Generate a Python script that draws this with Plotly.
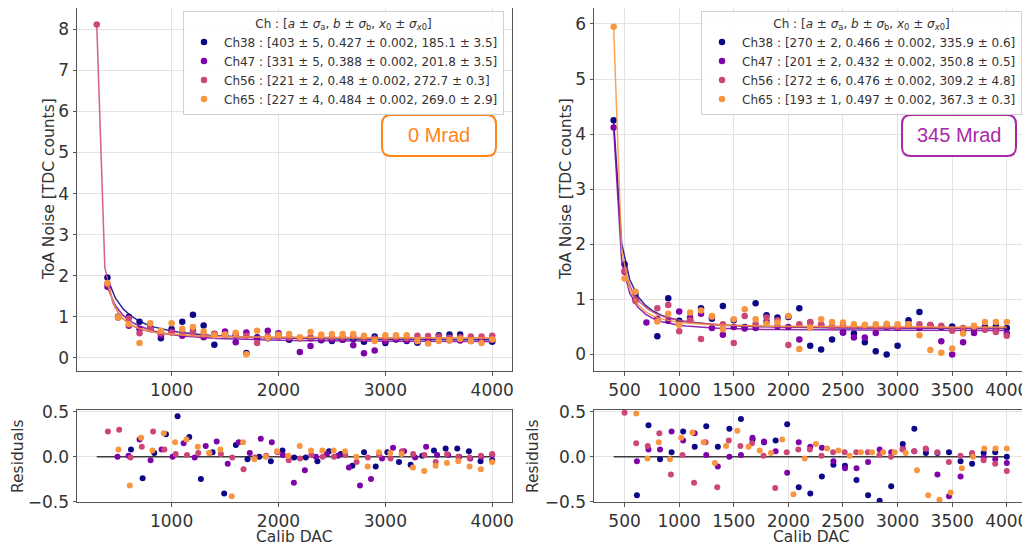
import numpy as np
import plotly.graph_objects as go

# page is 1030x547; the browser adds an 8px body margin, so the figure is sized to the visible area
OFF = 8
W, H = 1030 - OFF, 547 - OFF

channels = ["Ch38", "Ch47", "Ch56", "Ch65"]
colors = ["#0d0887", "#7e03a8", "#cc4778", "#f89540"]

# ---------------- 0 Mrad (left) ----------------
calib_left = list(range(300, 4001, 100))
noise_left_ch38 = [None, 1.96, 1.00, 1.00, 0.88, 0.72, 0.48, 0.70, 0.88, 1.05, 0.79, 0.32, 0.58, 0.55, 0.12, 0.50,
                   0.48, 0.55, 0.44, 0.48, 0.48, 0.43, 0.41, 0.44, 0.46, 0.39, 0.52, 0.36, 0.45, 0.41, 0.37, 0.45,
                   0.55, 0.57, 0.57, 0.45, 0.42, 0.39]
noise_left_ch47 = [None, 1.73, 0.98, 0.78, 0.70, 0.70, 0.55, 0.64, 0.54, 0.66, 0.50, 0.58, 0.64, 0.38, 0.62, 0.48,
                   0.66, 0.60, 0.48, 0.14, 0.29, 0.44, 0.44, 0.44, 0.31, 0.11, 0.18, 0.40, 0.46, 0.43, 0.40, 0.42,
                   0.45, 0.43, 0.42, 0.41, 0.44, 0.45]
noise_left_ch56 = [8.12, 1.80, 1.00, 0.96, 0.60, 0.70, 0.60, 0.62, 0.63, 0.62, 0.56, 0.59, 0.56, 0.56, 0.54, 0.36,
                   0.52, 0.52, 0.50, 0.48, 0.50, 0.51, 0.50, 0.50, 0.52, 0.48, 0.47, 0.48, 0.50, 0.48, 0.54, 0.53,
                   0.52, 0.49, 0.50, 0.52, 0.52, 0.54]
noise_left_ch65 = [None, 1.82, 0.98, 0.82, 0.36, 0.84, 0.66, 0.84, 0.71, 0.75, 0.64, 0.55, 0.57, 0.61, 0.09, 0.66,
                   0.49, 0.56, 0.58, 0.50, 0.63, 0.57, 0.58, 0.58, 0.58, 0.54, 0.41, 0.55, 0.55, 0.55, 0.41, 0.35,
                   0.41, 0.42, 0.46, 0.41, 0.36, 0.45]
fit_a_left = [403, 331, 221, 227]
fit_b_left = [0.427, 0.388, 0.48, 0.484]
fit_x0_left = [185.1, 201.8, 272.7, 269.0]
labels_left = ["Ch38 : [403 ± 5, 0.427 ± 0.002, 185.1 ± 3.5]",
               "Ch47 : [331 ± 5, 0.388 ± 0.002, 201.8 ± 3.5]",
               "Ch56 : [221 ± 2, 0.48 ± 0.002, 272.7 ± 0.3]",
               "Ch65 : [227 ± 4, 0.484 ± 0.002, 269.0 ± 2.9]"]
res_left_start = [620, 494, 404, 503]
res_left_ch38 = [0.08, -0.24, 0.04, 0.25, 0.45, 0.22, -0.25, 0.05, -0.41, 0.13, -0.03, 0.0, -0.05, 0.07, -0.01, -0.01,
                 -0.05, 0.06, 0.03, -0.10, 0.05, -0.11, 0.05, -0.06, -0.09, 0.01, 0.07, 0.09, 0.09, 0.06, -0.05, -0.04]
res_left_ch47 = [0.0, 0.01, 0.19, -0.04, 0.08, 0.0, 0.15, -0.01, 0.12, 0.17, -0.08, 0.16, 0.04, 0.20, 0.16, 0.02,
                 -0.29, -0.15, 0.0, 0.03, 0.01, -0.12, -0.32, -0.25, -0.02, 0.10, 0.06, -0.01, 0.11, 0.02, 0.02, 0.0,
                 -0.02, 0.0, 0.02]
res_left_ch56 = [0.28, 0.30, -0.01, 0.11, 0.28, 0.08, 0.03, 0.02, 0.04, 0.04, 0.03, -0.01, -0.14, -0.01, 0.01, 0.05,
                 -0.04, -0.02, 0.02, 0.0, 0.0, 0.02, -0.06, -0.01, 0.02, -0.02, 0.06, 0.03, 0.02, -0.06, 0.03, 0.0,
                 -0.01, 0.01, 0.03]
res_left_ch65 = [0.08, -0.32, 0.21, 0.07, 0.26, 0.16, 0.19, 0.11, 0.04, 0.08, -0.44, 0.16, -0.03, 0.0, 0.06, 0.01,
                 0.12, 0.07, 0.07, 0.07, 0.06, 0.0, -0.11, 0.05, 0.04, 0.03, -0.12, -0.16, -0.10, -0.07, -0.05, -0.11,
                 -0.14, -0.06]

# ---------------- 345 Mrad (right) ----------------
calib_right = list(range(400, 4001, 100))
noise_right_ch38 = [4.25, 1.64, 1.10, None, 0.33, 1.02, 0.61, 0.62, 0.84, 0.65, 0.88, 0.62, 0.50, 0.93, 0.71, 0.67,
                    0.68, 0.84, 0.16, 0.09, 0.27, 0.40, 0.38, 0.22, 0.06, 0.0, 0.16, 0.62, 0.77, 0.52, 0.50, 0.51,
                    0.45, 0.48, 0.50, 0.51, 0.48]
noise_right_ch47 = [4.12, 1.50, 1.00, 0.58, 0.65, 0.61, 0.78, 0.67, 0.74, 0.48, 0.36, 0.50, 0.47, 0.48, 0.60, 0.51,
                    0.50, 0.27, 0.58, 0.54, 0.50, 0.40, 0.31, 0.31, 0.39, 0.50, 0.48, 0.52, 0.48, 0.52, 0.24, 0.0,
                    0.22, 0.39, 0.46, 0.44, 0.38]
noise_right_ch56 = [None, 1.52, 0.97, None, 0.84, 0.90, 0.42, 0.62, 0.28, 0.68, 0.55, 0.21, 0.70, 0.55, 0.67, 0.62,
                    0.17, 0.55, 0.59, 0.54, 0.50, 0.52, 0.52, 0.52, 0.50, 0.52, 0.50, 0.55, 0.55, 0.54, 0.52, 0.43,
                    0.48, 0.50, 0.45, 0.41, 0.34]
noise_right_ch65 = [5.95, 1.38, 1.14, None, 0.60, 0.74, 0.54, 0.76, 0.80, 0.70, 0.46, 0.64, 0.82, 0.64, 0.56, 0.58,
                    0.70, 0.10, 0.49, 0.64, 0.59, 0.58, 0.55, 0.54, 0.55, 0.56, 0.55, 0.55, 0.35, 0.08, 0.03, 0.11,
                    0.38, 0.52, 0.59, 0.59, 0.59]
fit_a_right = [270, 201, 272, 193]
fit_b_right = [0.466, 0.432, 0.476, 0.497]
fit_x0_right = [335.9, 350.8, 309.2, 367.3]
labels_right = ["Ch38 : [270 ± 2, 0.466 ± 0.002, 335.9 ± 0.6]",
                "Ch47 : [201 ± 2, 0.432 ± 0.002, 350.8 ± 0.5]",
                "Ch56 : [272 ± 6, 0.476 ± 0.002, 309.2 ± 4.8]",
                "Ch65 : [193 ± 1, 0.497 ± 0.002, 367.3 ± 0.3]"]
res_right_start = [613, 613, 500, 607]
res_right_ch38 = [-0.43, 0.35, -0.03, 0.05, 0.28, 0.11, 0.34, 0.11, 0.31, 0.42, 0.19, 0.16, 0.18, 0.36, -0.34, -0.41,
                  -0.22, -0.09, -0.10, -0.26, -0.43, -0.49, -0.33, 0.14, 0.31, 0.04, 0.04, 0.05, -0.05, -0.08, 0.04,
                  0.05, 0.0]
res_right_ch47 = [-0.05, 0.08, 0.08, 0.28, 0.18, 0.26, 0.02, -0.11, 0.0, 0.02, 0.21, 0.17, 0.06, -0.18, 0.16, 0.11,
                  0.10, -0.05, -0.13, -0.13, -0.06, 0.08, 0.05, 0.09, 0.06, 0.08, -0.20, -0.44, -0.22, 0.03, -0.01,
                  -0.03, -0.07]
res_right_ch56 = [0.49, 0.15, 0.12, 0.26, -0.20, 0.02, -0.29, 0.16, -0.34, 0.18, 0.12, 0.15, 0.01, -0.35, 0.05, 0.08,
                  0.08, 0.01, 0.05, 0.05, 0.05, 0.05, 0.02, 0.0, 0.08, 0.06, 0.09, 0.05, -0.06, 0.01, 0.04, -0.04,
                  -0.08, -0.16]
res_right_ch65 = [0.48, -0.02, 0.16, -0.03, 0.21, 0.27, 0.16, -0.07, 0.12, 0.29, 0.11, 0.07, 0.04, 0.19, -0.42, -0.02,
                  0.14, 0.09, 0.07, 0.01, 0.05, 0.05, 0.05, 0.05, 0.04, -0.15, -0.43, -0.48, -0.40, -0.13, 0.0, 0.09,
                  0.09, 0.09]

x_end = 4000
FONT = "DejaVu Sans"
TXT = "#333333"

panels = [
    dict(x=calib_left, ys=[noise_left_ch38, noise_left_ch47, noise_left_ch56, noise_left_ch65],
         a=fit_a_left, b=fit_b_left, x0=fit_x0_left, labels=labels_left,
         rstart=res_left_start, rs=[res_left_ch38, res_left_ch47, res_left_ch56, res_left_ch65],
         xa="x", ya="y", xr="x2", yr="y2", legend="legend"),
    dict(x=calib_right, ys=[noise_right_ch38, noise_right_ch47, noise_right_ch56, noise_right_ch65],
         a=fit_a_right, b=fit_b_right, x0=fit_x0_right, labels=labels_right,
         rstart=res_right_start, rs=[res_right_ch38, res_right_ch47, res_right_ch56, res_right_ch65],
         xa="x3", ya="y3", xr="x4", yr="y4", legend="legend2"),
]

fig = go.Figure()
for p in panels:
    xmin_all = None
    for i in range(4):
        y = p["ys"][i]
        valid = [xx for xx, yy in zip(p["x"], y) if yy is not None]
        xmin = min(valid)
        xmin_all = xmin if xmin_all is None else min(xmin_all, xmin)
        fig.add_trace(go.Scatter(x=p["x"], y=y, mode="markers", name=p["labels"][i],
                                 marker=dict(color=colors[i], size=6.5),
                                 xaxis=p["xa"], yaxis=p["ya"], legend=p["legend"]))
        xf = np.linspace(xmin, x_end, 50)
        yf = np.sqrt((p["a"][i] / (xf - p["x0"][i])) ** 2 + p["b"][i] ** 2)
        fig.add_trace(go.Scatter(x=xf, y=yf, mode="lines", showlegend=False, hoverinfo="skip",
                                 line=dict(color=colors[i], width=1.5), opacity=0.85,
                                 xaxis=p["xa"], yaxis=p["ya"]))
    fig.add_trace(go.Scatter(x=[xmin_all, x_end], y=[0, 0], mode="lines", showlegend=False,
                             line=dict(color="#3a3a3a", width=1.5), xaxis=p["xr"], yaxis=p["yr"]))
    for i in range(4):
        r = p["rs"][i]
        xr = np.linspace(p["rstart"][i], x_end, len(r))
        fig.add_trace(go.Scatter(x=xr, y=r, mode="markers", showlegend=False,
                                 marker=dict(color=colors[i], size=6),
                                 xaxis=p["xr"], yaxis=p["yr"]))


def clamp(v):
    return min(1.0, max(0.0, v))


def px2paper_x(v):
    return (v - OFF) / W


def px2paper_y(v):
    return 1 - (v - OFF) / H


axis_common = dict(showline=True, mirror=True, linecolor="#555555", linewidth=1,
                   showgrid=True, gridcolor="#e3e3e3", gridwidth=1, automargin=False,
                   ticks="outside", ticklen=3.5, tickcolor="#555555", zeroline=False,
                   tickfont=dict(family=FONT, size=17, color=TXT))

L0, L1 = clamp(px2paper_x(77)), clamp(px2paper_x(512))
R0, R1 = clamp(px2paper_x(594)), clamp(px2paper_x(1027))
M0, M1 = clamp(px2paper_y(371)), clamp(px2paper_y(8))
S0, S1 = clamp(px2paper_y(502)), clamp(px2paper_y(410))

res_ticks = dict(tickvals=[-0.5, 0, 0.5], ticktext=["−0.5", "0.0", "0.5"])

fig.update_layout(
    width=W, height=H, margin=dict(l=0, r=0, t=0, b=0, autoexpand=False),
    paper_bgcolor="white", plot_bgcolor="white",
    font=dict(family=FONT, color=TXT),
    xaxis=dict(domain=[L0, L1], range=[115, 4185], dtick=1000, anchor="y", **axis_common),
    yaxis=dict(domain=[M0, M1], range=[-0.32, 8.52], dtick=1, anchor="x", **axis_common),
    xaxis2=dict(domain=[L0, L1], range=[115, 4185], dtick=1000, anchor="y2", **axis_common),
    yaxis2=dict(domain=[S0, S1], range=[-0.505, 0.52], anchor="x2", **res_ticks, **axis_common),
    xaxis3=dict(domain=[R0, R1], range=[220, 4185], dtick=500, anchor="y3", **axis_common),
    yaxis3=dict(domain=[M0, M1], range=[-0.30, 6.29], dtick=1, anchor="x3", **axis_common),
    xaxis4=dict(domain=[R0, R1], range=[220, 4185], dtick=500, anchor="y4", **axis_common),
    yaxis4=dict(domain=[S0, S1], range=[-0.505, 0.52], anchor="x4", **res_ticks, **axis_common),
)

# axis titles
title_font = dict(family=FONT, size=15.5, color=TXT)
axis_titles = [("ToA Noise [TDC counts]", 49, 189, -90), ("ToA Noise [TDC counts]", 566, 189, -90),
               ("Residuals", 18, 456, -90), ("Residuals", 533, 456, -90),
               ("Calib DAC", 294, 537, 0), ("Calib DAC", 811, 537, 0)]
for txt, tx, ty, ang in axis_titles:
    fig.add_annotation(xref="paper", yref="paper", x=px2paper_x(tx), y=px2paper_y(ty), text=txt,
                       showarrow=False, textangle=ang, font=title_font, xanchor="center", yanchor="middle")

legend_title = ("Ch : [<i>a</i> ± <i>σ</i><sub>a</sub>, <i>b</i> ± <i>σ</i><sub>b</sub>, "
                "<i>x</i><sub>0</sub> ± <i>σ</i><sub><i>x</i>0</sub>]")
leg_common = dict(bgcolor="rgba(255,255,255,0.85)", bordercolor="#d0d0d0", borderwidth=1,
                  font=dict(family=FONT, size=12, color=TXT), xanchor="right", yanchor="top",
                  xref="paper", yref="paper",
                  title=dict(text=legend_title, side="top center", font=dict(family=FONT, size=12, color=TXT)),
                  tracegroupgap=0)
fig.update_layout(
    legend=dict(x=px2paper_x(504), y=clamp(px2paper_y(11)), **leg_common),
    legend2=dict(x=px2paper_x(1022), y=clamp(px2paper_y(11)), **leg_common),
)


def rounded_box(x0, y0, x1, y1, r):
    pts = lambda xx, yy: f"{px2paper_x(xx):.5f},{px2paper_y(yy):.5f}"
    return ("M " + pts(x0 + r, y0) + " L " + pts(x1 - r, y0) + " Q " + pts(x1, y0) + " " + pts(x1, y0 + r) +
            " L " + pts(x1, y1 - r) + " Q " + pts(x1, y1) + " " + pts(x1 - r, y1) +
            " L " + pts(x0 + r, y1) + " Q " + pts(x0, y1) + " " + pts(x0, y1 - r) +
            " L " + pts(x0, y0 + r) + " Q " + pts(x0, y0) + " " + pts(x0 + r, y0) + " Z")


boxes = [("0 Mrad", "#ff8419", (382, 115, 496, 156)), ("345 Mrad", "#a82aa8", (902, 115, 1016, 156))]
for text, col, (bx0, by0, bx1, by1) in boxes:
    fig.add_shape(type="path", xref="paper", yref="paper", path=rounded_box(bx0, by0, bx1, by1, 9),
                  line=dict(color=col, width=2), fillcolor="white")
    fig.add_annotation(xref="paper", yref="paper", x=px2paper_x((bx0 + bx1) / 2), y=px2paper_y((by0 + by1) / 2),
                       text=text, showarrow=False, font=dict(family="Liberation Sans", size=20, color=col),
                       xanchor="center", yanchor="middle")

fig.write_html("out.html")
